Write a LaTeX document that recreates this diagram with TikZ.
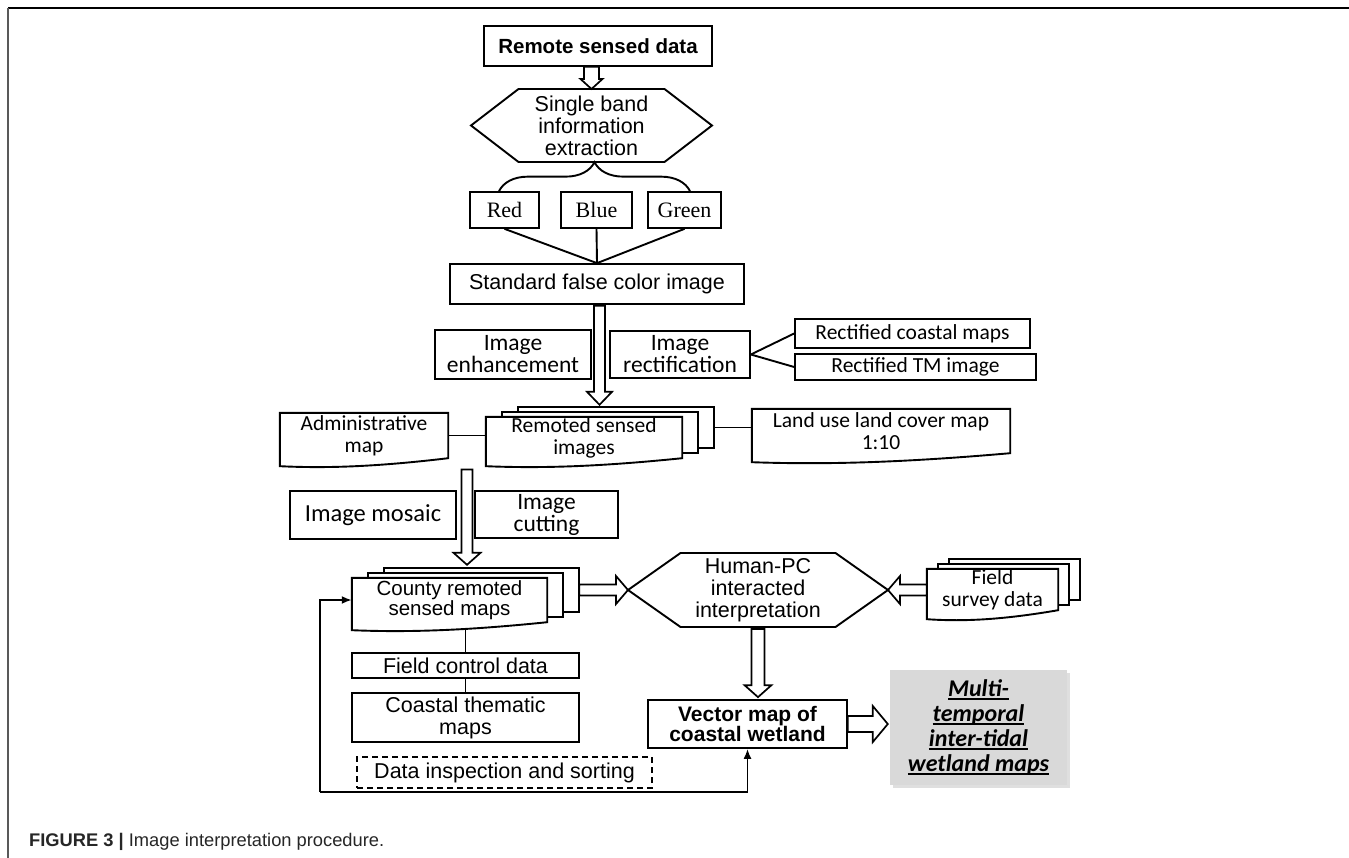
\documentclass[tikz,border=0pt]{standalone}
\usepackage{fontspec}
\setmainfont{Liberation Sans}
\newfontfamily\calib{Carlito}
\newfontfamily\timesf{Liberation Serif}
\usetikzlibrary{calc,decorations.pathreplacing,shadows,arrows.meta}
\pgfdeclarelayer{background}
\pgfsetlayers{background,main}
\definecolor{multigray}{HTML}{D9D9D9}

\newcommand{\hollowarr}[5]{%
  \coordinate (ha-b) at ($(#2)!#5!(#1)$);
  \draw[harrow] ($(#1)!#3!90:(ha-b)$) -- ($(ha-b)!#3!-90:(#1)$) -- ($(ha-b)!#4!-90:(#1)$) -- (#2) -- ($(ha-b)!#4!90:(#1)$) -- ($(ha-b)!#3!90:(#1)$) -- ($(#1)!#3!-90:(ha-b)$) -- cycle;}
\newcommand{\docpath}[2]{%
  \draw[outl] (#1.north west) -- (#1.north east) -- (#1.south east) .. controls ($(#1.south east)!0.4!(#1.south west)+(0,#2)$) and ($(#1.south east)!0.7!(#1.south west)+(0,1.3*#2)$) .. ($(#1.south west)+(0,#2)$) -- cycle;}
\newcommand{\stackdoc}[4]{%
  \draw[outl] ($(#1.north west)+(2*#3,-2*#4)$) rectangle ($(#1.south east)+(2*#3,-2*#4)$);
  \draw[outl] ($(#1.north west)+(#3,-#4)$) rectangle ($(#1.south east)+(#3,-#4)$);
  \docpath{#1}{#2}}
\newcommand{\hexpath}[4]{%
  \draw[outl] ($(#1)+(-#2,0)$) -- ($(#1)+(-#3,-#4)$) -- ($(#1)+(#3,-#4)$) -- ($(#1)+(#2,0)$) -- ($(#1)+(#3,#4)$) -- ($(#1)+(-#3,#4)$) -- cycle;}
\newcommand{\myul}[1]{\setbox0=\hbox{#1}\rlap{\rule[-3.5pt]{\wd0}{2pt}}\box0}

\begin{document}
\begin{tikzpicture}[x=1pt,y=-1pt,
  lbl/.style={inner sep=0pt, align=center},
  sq/.style={lbl, draw, line width=1.7pt},
  conn/.style={draw, line width=1.9pt},
  fa/.style={font=\fontsize{21.5}{22}\selectfont},
  fas/.style={font=\fontsize{20.5}{20.5}\selectfont},
  fab/.style={font=\fontsize{21}{20.5}\selectfont\bfseries},
  fc/.style={font=\fontsize{21.5}{22}\selectfont\calib},
  fcl/.style={font=\fontsize{23.5}{22}\selectfont\calib},
  ft/.style={font=\fontsize{22}{24}\selectfont\timesf},
  outl/.style={draw, line width=1.9pt, fill=white},
  harrow/.style={draw, line width=1.7pt, fill=white, line join=miter},
  fbarrow/.style={line width=1.9pt, -{Latex[length=10pt,width=8pt]}}
]
\useasboundingbox (0,0) rectangle (1349,858);
\draw[line width=2pt] (8,8) -- (1349,8);
\draw[line width=1.5pt, black!65] (8,8) -- (8,858);

% nodes
\node[sq, font=\fontsize{20.5}{21}\selectfont\bfseries, minimum width=228pt, minimum height=40pt] (remote) at (598,46) {Remote sensed data};
\node[lbl, fa] (hex) at (591.5,125.5) {Single band\\information\\extraction};
\node[sq, ft, minimum width=69pt, minimum height=36pt] (red) at (504.5,210) {Red};
\node[sq, ft, minimum width=71pt, minimum height=36pt] (blue) at (596.5,210) {Blue};
\node[sq, ft, minimum width=73pt, minimum height=36pt] (green) at (684.5,210) {Green};
\node[sq, fa, minimum width=294pt, minimum height=40pt] (std) at (597,284) {Standard false color image};
\node[sq, fcl, minimum width=156pt, minimum height=49pt] (enh) at (513,354.5) {Image\\enhancement};
\node[sq, fcl, minimum width=140pt, minimum height=47pt] (rect) at (680,354.5) {Image\\rectification};
\node[sq, fc, minimum width=235pt, minimum height=29pt] (rcm) at (912.5,333.5) {Rectified coastal maps};
\node[sq, fc, minimum width=241pt, minimum height=26pt] (rtm) at (915.5,367) {Rectified TM image};
\node[lbl, fc, minimum width=168pt, minimum height=45pt] (admin) at (364,435.5) {Administrative\\map};
\node[lbl, fc, minimum width=196pt, minimum height=41pt] (rsi) at (584,437.5) {Remoted sensed\\images};
\node[lbl, fc, minimum width=258pt, minimum height=44pt] (land) at (881,431) {Land use land cover map\\1:10};
\node[sq, font=\fontsize{24.5}{22}\selectfont\calib, minimum width=166pt, minimum height=48pt] (mosaic) at (373,515) {Image mosaic};
\node[sq, fcl, minimum width=143pt, minimum height=47pt] (cut) at (546.5,514.5) {Image\\cutting};
\node[lbl, fas, minimum width=195pt, minimum height=44pt] (county) at (449.5,600) {County remoted\\sensed maps};
\node[lbl, fa] (hpc) at (758,590) {Human-PC\\interacted\\interpretation};
\node[lbl, fc, minimum width=131pt, minimum height=41pt] (field) at (992.5,589.5) {Field\\survey data};
\node[sq, fa, minimum width=227pt, minimum height=25pt] (fcd) at (465.5,665.5) {Field control data};
\node[sq, fa, minimum width=227pt, minimum height=49pt] (ctm) at (465.5,717.5) {Coastal thematic\\maps};
\node[sq, fab, minimum width=199pt, minimum height=48pt] (vec) at (747.5,724) {Vector map of\\coastal wetland};
\node[lbl, fa, draw, line width=1.5pt, dash pattern=on 6pt off 4pt, minimum width=295pt, minimum height=31pt] (dis) at (504.5,772.5) {Data inspection and sorting};
\node[lbl, fill=multigray, drop shadow={opacity=0.25, shadow xshift=3pt, shadow yshift=-3pt}, font=\fontsize{24}{25}\selectfont\calib\bfseries\itshape, minimum width=177pt, minimum height=115pt] (multi) at (978.5,727.5) {\myul{Multi-}\\\myul{temporal}\\\myul{inter-tidal}\\\myul{wetland maps}};
\node[anchor=base west, inner sep=0pt, font=\fontsize{18.3}{18}\selectfont, text=black!85] (cap) at (29,846) {\textbf{FIGURE 3 |} Image interpretation procedure.};

% background shapes
\begin{pgfonlayer}{background}
  \hexpath{hex}{120.5}{73}{36.5}
  \hexpath{hpc}{130}{77.5}{37}
  \docpath{admin}{8}
  \stackdoc{rsi}{8}{16}{5}
  \docpath{land}{9}
  \stackdoc{county}{8}{16}{5}
  \stackdoc{field}{9}{11}{5}
\end{pgfonlayer}

% plain connectors
\draw[conn, decorate, decoration={brace, amplitude=29pt}] ($(red.north)+(-5.5,0)$) -- ($(green.north)+(5.5,0)$);
\draw[conn] (red.south) -- (std.north);
\draw[conn] (blue.south) -- (std.north);
\draw[conn] (green.south) -- (std.north);
\draw[conn] (rect.east) -- (rcm.west);
\draw[conn] (rect.east) -- (rtm.west);
\draw[conn] (admin.east) -- (admin.east -| rsi.west);
\coordinate (rsiB) at ($(rsi.east)+(32,-10)$);
\draw[conn] (rsiB) -- (rsiB -| land.west);
\coordinate (countyB) at ($(county.south)+(0,6)$);
\draw[conn] (fcd.north) -- (fcd.north |- countyB);
\draw[conn] (fcd.south) -- (ctm.north);
\coordinate (fb) at (320,792);
\draw[fbarrow] (fb) |- (county.west);
\draw[fbarrow] (fb) -| (vec.south);

% hollow arrows
\coordinate (hexN) at ($(hex)+(0,-36.5)$);
\coordinate (a1s) at (hexN |- remote.south);
\hollowarr{a1s}{hexN}{7.5pt}{11pt}{10pt}
\coordinate (a2s) at ($(std.south)+(2.5,1)$);
\coordinate (a2t) at ($(a2s |- rsi.north)+(0,-12)$);
\hollowarr{a2s}{a2t}{5.5pt}{12.5pt}{13pt}
\coordinate (a3s) at ($(admin.east)!0.5!(rsi.west)+(0,33)$);
\coordinate (a3t) at ($(a3s |- county.north)+(0,-13)$);
\hollowarr{a3s}{a3t}{5.5pt}{13.5pt}{12pt}
\coordinate (hpcW) at ($(hpc)+(-130,0)$);
\coordinate (hpcE) at ($(hpc)+(130,0)$);
\coordinate (hpcS) at ($(hpc)+(0,39)$);
\coordinate (a4s) at ($(county.east)+(32,0)$);
\coordinate (a4b) at (hpcW -| a4s);
\hollowarr{a4b}{hpcW}{5.5pt}{14pt}{12pt}
\coordinate (a5b) at (hpcE -| field.west);
\hollowarr{a5b}{hpcE}{5.5pt}{14pt}{12pt}
\coordinate (a6t) at ($(hpcS |- vec.north)+(0,-2)$);
\hollowarr{hpcS}{a6t}{6.5pt}{13.5pt}{12pt}
\coordinate (a7t) at ($(vec.east -| multi.west)+(-2,0)$);
\hollowarr{vec.east}{a7t}{8pt}{18pt}{15pt}
\end{tikzpicture}
\end{document}
